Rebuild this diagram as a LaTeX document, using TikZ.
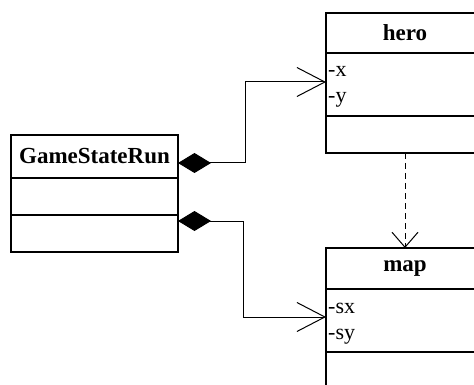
\documentclass[tikz,border=0pt]{standalone}
\usepackage{fontspec}
\setmainfont{Liberation Serif}
\usetikzlibrary{arrows.meta,positioning}

\begin{document}
\begin{tikzpicture}[x=1pt,y=1pt,
  classbox/.style={draw, line width=1.4pt, minimum width=#1, inner sep=0pt, outer sep=0pt},
  title/.style={font=\fontsize{23}{25}\selectfont\bfseries},
  attr/.style={font=\fontsize{22}{24}\selectfont, anchor=base west, inner sep=0pt},
  compose/.style={line width=1pt,
    {Diamond[length=33pt,width=20pt]}-{Straight Barb[length=28pt,width=29pt]}},
  depend/.style={line width=1pt, dash pattern=on 6pt off 4pt,
    -{Straight Barb[length=15pt,width=26pt]}}]
  \clip (0,0) rectangle (474,-385);

  % GameStateRun
  \node[classbox=167pt, minimum height=43pt, title, anchor=north west] (gsrHead) at (11,-135) {GameStateRun};
  \node[classbox=167pt, minimum height=37pt, below=0pt of gsrHead] (gsrAttr) {};
  \node[classbox=167pt, minimum height=37pt, below=0pt of gsrAttr] (gsrOps) {};

  % hero
  \node[classbox=158pt, minimum height=40pt, title, anchor=north west] (heroHead) at (326,-13) {hero};
  \node[classbox=158pt, minimum height=63pt, below=0pt of heroHead] (heroAttr) {};
  \node[classbox=158pt, minimum height=37pt, below=0pt of heroAttr] (heroOps) {};
  \node[attr] (heroX) at ([xshift=2pt,yshift=-24pt]heroAttr.north west) {-x};
  \node[attr] (heroY) at ([xshift=2pt,yshift=-50pt]heroAttr.north west) {-y};

  % map
  \node[classbox=158pt, minimum height=41pt, title, anchor=north west] (mapHead) at (326,-248) {map};
  \node[classbox=158pt, minimum height=63pt, below=0pt of mapHead] (mapAttr) {};
  \node[classbox=158pt, minimum height=37pt, below=0pt of mapAttr] (mapOps) {};
  \node[attr] (mapSx) at ([xshift=2pt,yshift=-24pt]mapAttr.north west) {-sx};
  \node[attr] (mapSy) at ([xshift=2pt,yshift=-50pt]mapAttr.north west) {-sy};

  % connectors
  \coordinate (elbowA) at (245,-82);
  \coordinate (elbowB) at (243,-317);
  \draw[compose] ([yshift=-6.5pt]gsrHead.east) -| (elbowA) -- ([yshift=2.5pt]heroAttr.west);
  \draw[compose] ([yshift=12.5pt]gsrOps.east) -| (elbowB) -- ([yshift=3.5pt]mapAttr.west);
  \draw[depend] (heroOps.south) -- (mapHead.north);
\end{tikzpicture}
\end{document}
